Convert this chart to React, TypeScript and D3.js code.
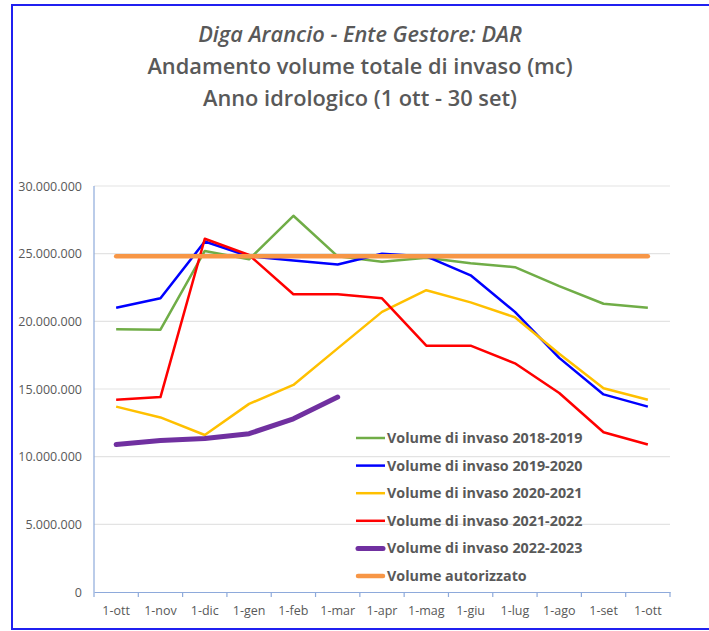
import React, { useEffect, useRef } from 'react';
import * as d3 from 'd3';

const months = ['1-ott', '1-nov', '1-dic', '1-gen', '1-feb', '1-mar', '1-apr', '1-mag', '1-giu', '1-lug', '1-ago', '1-set', '1-ott '];

const vol2018 = [19.41, 19.38, 25.2, 24.58, 27.8, 24.8, 24.4, 24.7, 24.3, 24.0, 22.6, 21.3, 21.0];
const vol2019 = [21.0, 21.7, 25.9, 24.8, 24.5, 24.2, 25.0, 24.8, 23.4, 20.7, 17.3, 14.6, 13.7];
const vol2020 = [13.7, 12.9, 11.6, 13.9, 15.3, 18.0, 20.7, 22.3, 21.4, 20.3, 17.6, 15.05, 14.2];
const vol2021 = [14.2, 14.4, 26.1, 24.9, 22.0, 22.0, 21.7, 18.2, 18.2, 16.9, 14.7, 11.8, 10.9];
const vol2022 = [10.9, 11.2, 11.35, 11.7, 12.8, 14.4];
const autorizzato = [24.8, 24.8, 24.8, 24.8, 24.8, 24.8, 24.8, 24.8, 24.8, 24.8, 24.8, 24.8, 24.8];

const yTicks = [0, 5, 10, 15, 20, 25, 30];

const series = [
    { name: 'Volume di invaso 2018-2019', values: vol2018, color: '#70AD47', width: 2.5 },
    { name: 'Volume di invaso 2019-2020', values: vol2019, color: '#0000FF', width: 2.5 },
    { name: 'Volume di invaso 2020-2021', values: vol2020, color: '#FFC000', width: 2.5 },
    { name: 'Volume di invaso 2021-2022', values: vol2021, color: '#FF0000', width: 2.5 },
    { name: 'Volume di invaso 2022-2023', values: vol2022, color: '#7030A0', width: 5 },
    { name: 'Volume autorizzato', values: autorizzato, color: '#F79646', width: 4.5 },
];

function App() {
    const svgRef = useRef();

    useEffect(() => {
        const svg = d3.select(svgRef.current);
        svg.selectAll('*').remove();

        const width = 709;
        const height = 631;
        const margin = { top: 186, right: 39, bottom: 39, left: 94 };
        const font = '"Open Sans", sans-serif';
        const textColor = '#595959';

        // frame
        svg.append('path')
            .attr('d', `M ${width + 5} 5 H 12 V 629 H ${width + 5}`)
            .attr('fill', 'none')
            .attr('stroke', '#2020F0')
            .attr('stroke-width', 2);

        // titles
        const titles = [
            { text: 'Diga Arancio - Ente Gestore: DAR', y: 42, italic: true },
            { text: 'Andamento volume totale di invaso (mc)', y: 74, italic: false },
            { text: 'Anno idrologico (1 ott - 30 set)', y: 106, italic: false },
        ];
        svg.selectAll('text.title')
            .data(titles)
            .enter()
            .append('text')
            .attr('class', 'title')
            .attr('x', 360)
            .attr('y', d => d.y)
            .attr('text-anchor', 'middle')
            .style('font-family', font)
            .style('font-size', '21.8px')
            .style('font-weight', 600)
            .style('font-style', d => (d.italic ? 'italic' : 'normal'))
            .style('fill', textColor)
            .text(d => d.text);

        const xScale = d3.scaleBand().domain(months).range([margin.left, width - margin.right]);
        const yScale = d3.scaleLinear().domain([0, 30]).range([height - margin.bottom, margin.top]);

        // gridlines
        svg.append('g')
            .selectAll('line')
            .data(yTicks.filter(t => t > 0))
            .enter()
            .append('line')
            .attr('x1', margin.left)
            .attr('x2', width - margin.right)
            .attr('y1', d => yScale(d))
            .attr('y2', d => yScale(d))
            .attr('stroke', '#E3E3E3')
            .attr('stroke-width', 1.2);

        // y labels
        const fmt = d3.formatLocale({ decimal: ',', thousands: '.', grouping: [3], currency: ['', ''] }).format(',d');
        svg.append('g')
            .selectAll('text')
            .data(yTicks)
            .enter()
            .append('text')
            .attr('x', 82)
            .attr('y', d => yScale(d) + 4.5)
            .attr('text-anchor', 'end')
            .style('font-family', font)
            .style('font-size', '12.5px')
            .style('fill', textColor)
            .text(d => fmt(d * 1000000));

        // axes
        const axisColor = '#8EAADB';
        svg.append('line')
            .attr('x1', margin.left).attr('x2', margin.left)
            .attr('y1', yScale(30)).attr('y2', yScale(0))
            .attr('stroke', axisColor).attr('stroke-width', 1.2);

        const xAxis = svg.append('g')
            .attr('transform', `translate(0,${yScale(0)})`)
            .call(d3.axisBottom(xScale).tickSize(0).tickPadding(14));
        xAxis.select('.domain').attr('stroke', axisColor).attr('stroke-width', 1.2);
        xAxis.selectAll('text')
            .style('font-family', font)
            .style('font-size', '12.5px')
            .style('fill', textColor);

        const boundaries = months.map(m => xScale(m)).concat([width - margin.right]);
        svg.append('g')
            .selectAll('line')
            .data(boundaries)
            .enter()
            .append('line')
            .attr('x1', d => d).attr('x2', d => d)
            .attr('y1', yScale(0)).attr('y2', yScale(0) + 5)
            .attr('stroke', axisColor).attr('stroke-width', 1.2);

        // lines
        const cx = i => xScale(months[i]) + xScale.bandwidth() / 2;
        const line = d3.line()
            .x((d, i) => cx(i))
            .y(d => yScale(d));

        svg.append('g')
            .selectAll('path')
            .data(series)
            .enter()
            .append('path')
            .attr('d', d => line(d.values))
            .attr('fill', 'none')
            .attr('stroke', d => d.color)
            .attr('stroke-width', d => d.width)
            .attr('stroke-linejoin', 'round')
            .attr('stroke-linecap', d => (d.width > 3 ? 'round' : 'butt'));

        // legend
        const legend = svg.append('g')
            .selectAll('g')
            .data(series)
            .enter()
            .append('g')
            .attr('transform', (d, i) => `translate(356,${438 + i * 27.6})`);
        legend.append('line')
            .attr('x1', d => (d.width > 3 ? 2 : 0))
            .attr('x2', d => (d.width > 3 ? 27 : 29))
            .attr('stroke', d => d.color)
            .attr('stroke-width', d => d.width)
            .attr('stroke-linecap', d => (d.width > 3 ? 'round' : 'butt'));
        legend.append('text')
            .attr('x', 31)
            .attr('y', 5)
            .style('font-family', font)
            .style('font-size', '14.3px')
            .style('font-weight', 700)
            .style('fill', textColor)
            .text(d => d.name);
    }, []);

    return (
        <svg
            ref={svgRef}
            width={709}
            height={631}
            style={{ position: 'absolute', left: 0, top: 0, background: '#fff' }}
        ></svg>
    );
}

export default App;
